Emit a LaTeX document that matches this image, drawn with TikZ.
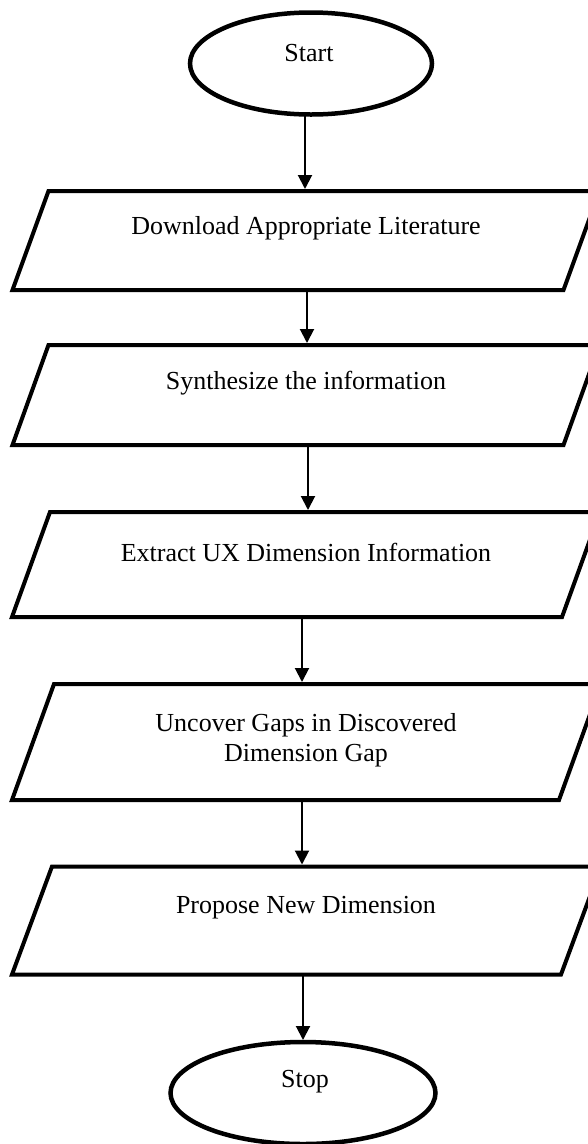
\documentclass[tikz,border=0pt]{standalone}
\usepackage{fontspec}
\setmainfont{Liberation Serif}
\usetikzlibrary{arrows.meta,shapes.geometric}
\tikzset{
 oval/.style={ellipse, draw, line width=4.5pt, inner sep=0pt, outer sep=0pt},
 parabox/.style={rectangle, inner sep=0pt, outer sep=0pt},
 paraline/.style={line width=4pt, line join=miter},
 txt/.style={font=\fontsize{26}{30}\selectfont, align=center, inner sep=0pt},
 arr/.style={line width=2pt, -{Triangle[width=14pt,length=14pt]}, shorten >=2pt},
}
\newcommand{\drawpara}[2]{\draw[paraline] ([xshift=-#2]#1.south west) -- ([xshift=-#2]#1.south east) -- ([xshift=#2]#1.north east) -- ([xshift=#2]#1.north west) -- cycle;}
\begin{document}
\begin{tikzpicture}[x=1pt,y=1pt]
\clip (0,0) rectangle (588,-1144);
% start
\node[oval, minimum width=242pt, minimum height=102pt] (start) at (311,-63.5) {};
\node[txt] (tstart) at (309,-53) {Start};
% boxes
\node[parabox, minimum width=551pt, minimum height=99pt] (p1) at (306,-240.5) {};
\drawpara{p1}{18pt}
\node[txt] (t1) at (306,-228) {Download Appropriate Literature};
\node[parabox, minimum width=551pt, minimum height=100pt] (p2) at (306,-395) {};
\drawpara{p2}{18pt}
\node[txt] (t2) at (306,-383) {Synthesize the information};
\node[parabox, minimum width=550pt, minimum height=105pt] (p3) at (306,-564.5) {};
\drawpara{p3}{19pt}
\node[txt] (t3) at (306,-552) {Extract UX Dimension Information};
\node[parabox, minimum width=547pt, minimum height=116pt] (p4) at (306.5,-742) {};
\drawpara{p4}{21pt}
\node[txt] (t4) at (306,-740) {Uncover Gaps in Discovered\\Dimension Gap};
\node[parabox, minimum width=549pt, minimum height=108pt] (p5) at (306.5,-920.5) {};
\drawpara{p5}{20pt}
\node[txt] (t5) at (306,-908) {Propose New Dimension};
% stop
\node[oval, minimum width=265pt, minimum height=102pt] (stop) at (303,-1093) {};
\node[txt] (tstop) at (305,-1082) {Stop};
% arrows
\draw[arr] ([xshift=-6pt]start.south) -- ([xshift=-6pt]start.south |- p1.north);
\draw[arr] ([xshift=1pt]p1.south) -- ([xshift=1pt]p1.south |- p2.north);
\draw[arr] ([xshift=2pt]p2.south) -- ([xshift=2pt]p2.south |- p3.north);
\draw[arr] ([xshift=-4pt]p3.south) -- ([xshift=-4pt]p3.south |- p4.north);
\draw[arr] ([xshift=-4.5pt]p4.south) -- ([xshift=-4.5pt]p4.south |- p5.north);
\draw[arr] ([xshift=-3.5pt]p5.south) -- ([xshift=-3.5pt]p5.south |- stop.north);
\end{tikzpicture}
\end{document}
